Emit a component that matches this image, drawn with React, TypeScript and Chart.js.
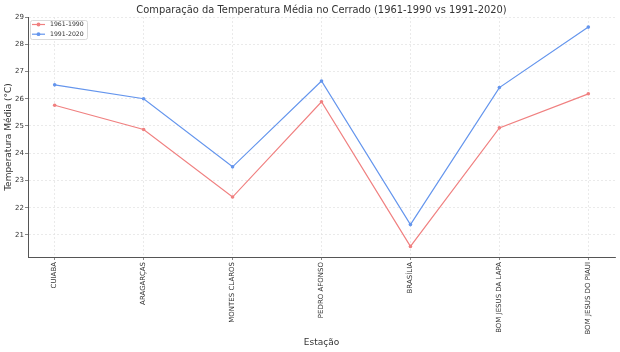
import React, { useEffect, useRef } from "react";
import { Chart, registerables } from "chart.js";

Chart.register(...registerables);

const chartTitle = "Comparação da Temperatura Média no Cerrado (1961-1990 vs 1991-2020)";
const stations = [
  "CUIABA",
  "ARAGARÇAS",
  "MONTES CLAROS",
  "PEDRO AFONSO",
  "BRASÍLIA",
  "BOM JESUS DA LAPA",
  "BOM JESUS DO PIAUI",
];
const temps1961_1990 = [25.76, 24.87, 22.39, 25.89, 20.58, 24.93, 26.18];
const temps1991_2020 = [26.51, 26.0, 23.5, 26.65, 21.38, 26.41, 28.63];
const yTicks = [21, 22, 23, 24, 25, 26, 27, 28, 29];

const FONT = "'DejaVu Sans', sans-serif";

const axesTitle = {
  id: "axesTitle",
  afterDraw(chart: any) {
    const ctx = chart.ctx;
    const ca = chart.chartArea;
    ctx.save();
    ctx.fillStyle = "#333";
    ctx.font = `9.9px ${FONT}`;
    ctx.textAlign = "center";
    ctx.textBaseline = "middle";
    ctx.fillText(chartTitle, (ca.left + ca.right) / 2, 10);
    ctx.restore();
  },
};

const insideLegend = {
  id: "insideLegend",
  afterDraw(chart: any) {
    const ctx = chart.ctx;
    const ca = chart.chartArea;
    const x0 = ca.left + 2;
    const y0 = ca.top + 3;
    const w = 57;
    const h = 19;
    ctx.save();
    ctx.fillStyle = "rgba(255,255,255,0.9)";
    ctx.strokeStyle = "#d0d0d0";
    ctx.lineWidth = 0.8;
    ctx.beginPath();
    if (ctx.roundRect) ctx.roundRect(x0 + 0.5, y0 + 0.5, w, h, 2);
    else ctx.rect(x0 + 0.5, y0 + 0.5, w, h);
    ctx.fill();
    ctx.stroke();
    chart.data.datasets.forEach((ds: any, i: number) => {
      const y = y0 + 4.5 + i * 9.7;
      ctx.strokeStyle = ds.borderColor;
      ctx.lineWidth = 1.2;
      ctx.beginPath();
      ctx.moveTo(x0 + 2, y);
      ctx.lineTo(x0 + 15, y);
      ctx.stroke();
      ctx.fillStyle = ds.borderColor;
      ctx.beginPath();
      ctx.arc(x0 + 8.5, y, 1.9, 0, Math.PI * 2);
      ctx.fill();
      ctx.fillStyle = "#333";
      ctx.font = `6.2px ${FONT}`;
      ctx.textBaseline = "middle";
      ctx.textAlign = "left";
      ctx.fillText(ds.label, x0 + 20, y);
    });
    ctx.restore();
  },
};

export default function App() {
  const ref = useRef<HTMLCanvasElement | null>(null);
  useEffect(() => {
    document.body.style.margin = "0";
    const canvas = ref.current!;
    const chart = new Chart(canvas, {
      type: "line",
      data: {
        datasets: [
          {
            label: "1961-1990",
            data: temps1961_1990.map((v, i) => ({ x: i, y: v })),
            borderColor: "#f08080",
            backgroundColor: "#f08080",
            borderWidth: 1.2,
            pointRadius: 1.8,
            pointBorderWidth: 0,
            tension: 0,
          },
          {
            label: "1991-2020",
            data: temps1991_2020.map((v, i) => ({ x: i, y: v })),
            borderColor: "#6495ed",
            backgroundColor: "#6495ed",
            borderWidth: 1.2,
            pointRadius: 1.8,
            pointBorderWidth: 0,
            tension: 0,
          },
        ],
      },
      options: {
        animation: false,
        responsive: false,
        maintainAspectRatio: false,
        layout: { padding: { left: 0, right: 5, top: 17, bottom: 0 } },
        plugins: {
          legend: { display: false },
          tooltip: { enabled: false },
          title: { display: false },
        },
        scales: {
          x: {
            type: "linear",
            min: -0.3,
            max: 6.3,
            afterBuildTicks: (scale: any) => {
              scale.ticks = stations.map((_, i) => ({ value: i }));
            },
            afterFit: (scale: any) => {
              scale.height = 95;
            },
            ticks: {
              autoSkip: false,
              maxRotation: 90,
              minRotation: 90,
              padding: 2,
              color: "#333",
              font: { family: FONT, size: 7 },
              callback: (v: any) => stations[v as number] ?? "",
            },
            grid: {
              color: "#e2e2e2",
              lineWidth: 0.7,
              tickLength: 3,
              tickColor: "#555",
              tickBorderDash: [],
            },
            border: { color: "#555", width: 1, dash: [2, 2] },
            title: {
              display: true,
              text: "Estação",
              color: "#333",
              font: { family: FONT, size: 9, lineHeight: 1.2 },
              padding: { top: 4, bottom: 4 },
            },
          },
          y: {
            type: "linear",
            min: 20.19,
            max: 29,
            afterBuildTicks: (scale: any) => {
              scale.ticks = yTicks.map((v) => ({ value: v }));
            },
            afterFit: (scale: any) => {
              scale.width = 28;
            },
            ticks: {
              padding: 1,
              color: "#333",
              font: { family: FONT, size: 7 },
            },
            grid: {
              color: "#e2e2e2",
              lineWidth: 0.7,
              tickLength: 3,
              tickColor: "#555",
              tickBorderDash: [],
            },
            border: { color: "#555", width: 1, dash: [2, 2] },
            title: {
              display: true,
              text: "Temperatura Média (°C)",
              color: "#333",
              font: { family: FONT, size: 9, lineHeight: 1.2 },
              padding: { top: 3, bottom: 2 },
            },
          },
        },
      },
      plugins: [axesTitle, insideLegend],
    } as any);
    return () => chart.destroy();
  }, []);
  return (
    <div style={{ width: 620, height: 352 }}>
      <canvas ref={ref} width={620} height={352} style={{ width: 620, height: 352 }} />
    </div>
  );
}
